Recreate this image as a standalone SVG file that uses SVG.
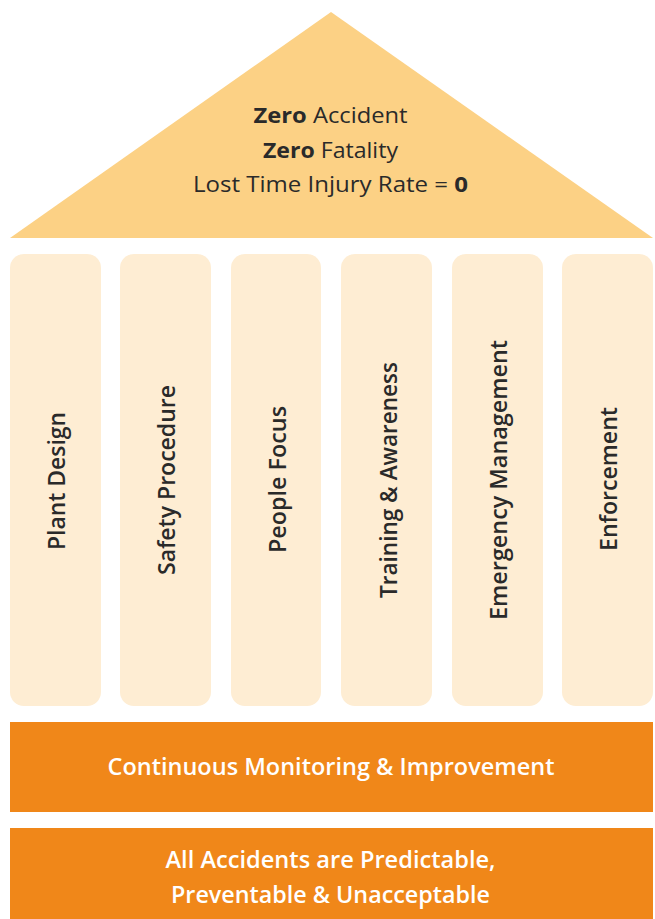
<svg xmlns="http://www.w3.org/2000/svg" width="655" height="919" viewBox="0 0 655 919">
<style>
.roof{fill:#FCD185}
.pillar{fill:#FEEDD3}
.bar{fill:#F08719}
.t{font-family:"Open Sans","Liberation Sans",sans-serif;fill:#2A2A2A;font-size:22px;text-anchor:middle}
.b{font-weight:700}
.pt{font-family:"Open Sans","Liberation Sans",sans-serif;fill:#2A2A2A;font-size:23px;font-weight:600;text-anchor:middle}
.wt{font-family:"Open Sans","Liberation Sans",sans-serif;fill:#FFFFFF;font-size:23px;font-weight:600;text-anchor:middle}
</style>
<rect width="655" height="919" fill="#FFFFFF"/>
<g id="roof">
<polygon class="roof" points="331,12 653,238 10,238"/>
<text class="t" x="330.5" y="123" textLength="154" lengthAdjust="spacingAndGlyphs"><tspan class="b">Zero</tspan> Accident</text>
<text class="t" x="330.5" y="158" textLength="135" lengthAdjust="spacingAndGlyphs"><tspan class="b">Zero</tspan> Fatality</text>
<text class="t" x="330.5" y="192" textLength="275" lengthAdjust="spacingAndGlyphs">Lost Time Injury Rate = <tspan class="b">0</tspan></text>
</g>
<g id="pillar-plant-design">
<rect class="pillar" x="10" y="254" width="91" height="452" rx="14"/>
<text class="pt" transform="translate(64.5,481) rotate(-90)" textLength="138" lengthAdjust="spacingAndGlyphs">Plant Design</text>
</g>
<g id="pillar-safety-procedure">
<rect class="pillar" x="120" y="254" width="91" height="452" rx="14"/>
<text class="pt" transform="translate(175,480) rotate(-90)" textLength="190" lengthAdjust="spacingAndGlyphs">Safety Procedure</text>
</g>
<g id="pillar-people-focus">
<rect class="pillar" x="231" y="254" width="90" height="452" rx="14"/>
<text class="pt" transform="translate(285.5,479.5) rotate(-90)" textLength="147" lengthAdjust="spacingAndGlyphs">People Focus</text>
</g>
<g id="pillar-training-awareness">
<rect class="pillar" x="341" y="254" width="91" height="452" rx="14"/>
<text class="pt" transform="translate(396.5,480) rotate(-90)" textLength="236" lengthAdjust="spacingAndGlyphs">Training &amp; Awareness</text>
</g>
<g id="pillar-emergency-management">
<rect class="pillar" x="452" y="254" width="91" height="452" rx="14"/>
<text class="pt" transform="translate(507,480) rotate(-90)" textLength="280" lengthAdjust="spacingAndGlyphs">Emergency Management</text>
</g>
<g id="pillar-enforcement">
<rect class="pillar" x="562" y="254" width="91" height="452" rx="14"/>
<text class="pt" transform="translate(617,479) rotate(-90)" textLength="144" lengthAdjust="spacingAndGlyphs">Enforcement</text>
</g>
<g id="base-monitoring">
<rect class="bar" x="10" y="722" width="643" height="90"/>
<text class="wt" x="331" y="775" textLength="447" lengthAdjust="spacingAndGlyphs">Continuous Monitoring &amp; Improvement</text>
</g>
<g id="base-foundation">
<rect class="bar" x="10" y="828" width="643" height="91"/>
<text class="wt" x="330.5" y="868" textLength="330" lengthAdjust="spacingAndGlyphs">All Accidents are Predictable,</text>
<text class="wt" x="330.5" y="903" textLength="319" lengthAdjust="spacingAndGlyphs">Preventable &amp; Unacceptable</text>
</g>
<g id="connectors"/>
</svg>
